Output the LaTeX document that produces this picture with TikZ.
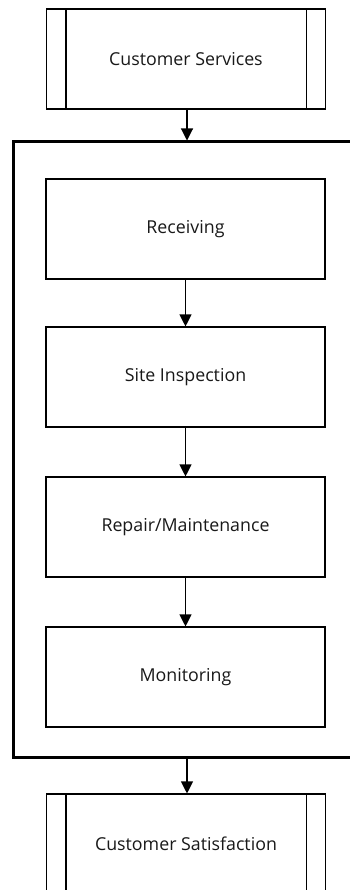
\documentclass[tikz,border=0pt]{standalone}
\usepackage{fontspec}
\setmainfont{Open Sans}
\usetikzlibrary{arrows.meta}
\begin{document}
\begin{tikzpicture}[x=1pt,y=-1pt,
  stepbox/.style={draw=black, line width=1.1pt, minimum width=279pt, minimum height=100pt, inner sep=0pt, font=\fontsize{17.8}{21}\selectfont, text=black!90},
  flow/.style={draw=black, line width=1.1pt, -{Triangle[width=12pt,length=12pt]}}]
\useasboundingbox (0,0) rectangle (350,890);
\fill[white] (0,0) rectangle (350,890);
\begin{scope}
\clip (0,0) rectangle (350,890);
\node[stepbox] (cs) at (186,59) {Customer Services};
\draw[line width=1.1pt] ([xshift=20pt]cs.north west) -- ([xshift=20pt]cs.south west);
\draw[line width=1.1pt] ([xshift=-20pt]cs.north east) -- ([xshift=-20pt]cs.south east);
\node[draw=black, line width=3pt, minimum width=358pt, minimum height=615pt, inner sep=0pt] (frame) at (192,449.5) {};
\node[stepbox] (rec) at (185.5,229) {Receiving};
\node[stepbox] (site) at (185.5,377) {Site Inspection};
\node[stepbox] (rep) at (185.5,527) {Repair/Maintenance};
\node[stepbox] (mon) at (185.5,677) {Monitoring};
\node[stepbox] (sat) at (186,844) {Customer Satisfaction};
\draw[line width=1.1pt] ([xshift=20pt]sat.north west) -- ([xshift=20pt]sat.south west);
\draw[line width=1.1pt] ([xshift=-20pt]sat.north east) -- ([xshift=-20pt]sat.south east);
\draw[flow] (cs.south -| 187,0) -- (frame.north -| 187,0);
\draw[flow] (rec.south) -- (site.north);
\draw[flow] (site.south) -- (rep.north);
\draw[flow] (rep.south) -- (mon.north);
\draw[flow] (frame.south -| 187,0) -- (sat.north -| 187,0);
\end{scope}
\end{tikzpicture}
\end{document}
